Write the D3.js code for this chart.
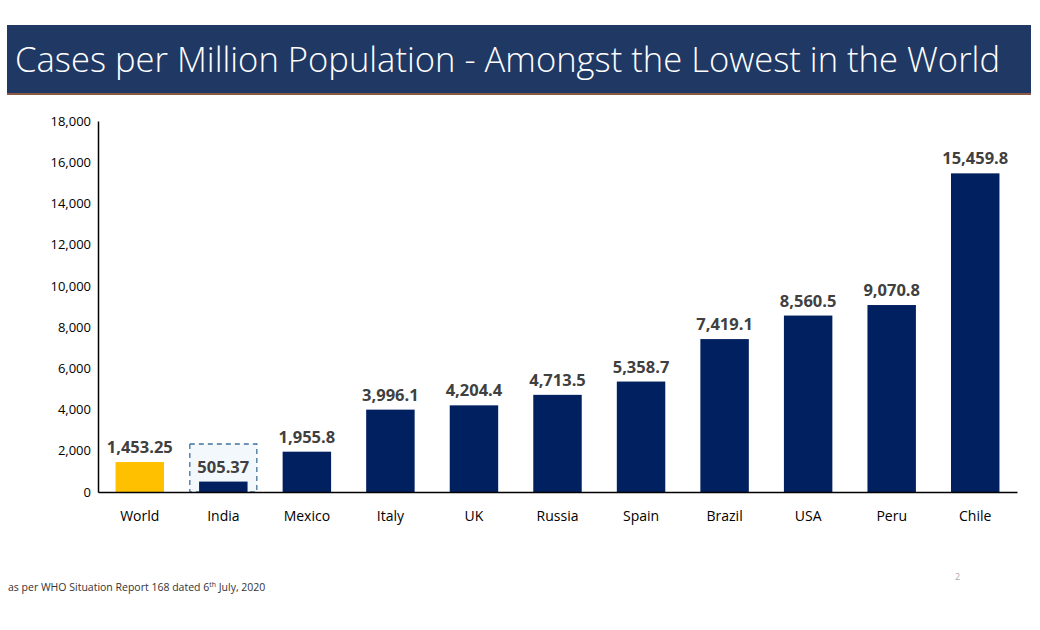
<!DOCTYPE html>
<html>
<head>
<meta charset="utf-8">
<script src="https://cdn.jsdelivr.net/npm/d3@7"></script>
<style>
  body { margin: 0; background: #fff; }
  svg { display: block; }
</style>
</head>
<body>
<div id="container"></div>
<script>
/* DATA */
const countries = ["World", "India", "Mexico", "Italy", "UK", "Russia", "Spain", "Brazil", "USA", "Peru", "Chile"];
const cases = [1453.25, 505.37, 1955.8, 3996.1, 4204.4, 4713.5, 5358.7, 7419.1, 8560.5, 9070.8, 15459.8];
const caseLabels = ["1,453.25", "505.37", "1,955.8", "3,996.1", "4,204.4", "4,713.5", "5,358.7", "7,419.1", "8,560.5", "9,070.8", "15,459.8"];
const yTicks = [0, 2000, 4000, 6000, 8000, 10000, 12000, 14000, 16000, 18000];

/* SIZES */
const W = 1040, H = 630;
const margin = {top: 121, right: 23, bottom: 138, left: 98};
const width = W - margin.left - margin.right,
      height = H - margin.top - margin.bottom;

const svg = d3.select("#container").append("svg")
    .attr("width", W)
    .attr("height", H);

/* TITLE BAR */
svg.append("rect")
    .attr("x", 7).attr("y", 25)
    .attr("width", 1024).attr("height", 68)
    .attr("fill", "#1f3864");
svg.append("rect")
    .attr("x", 7).attr("y", 93)
    .attr("width", 1024).attr("height", 2)
    .attr("fill", "#8a5a44");
svg.append("text")
    .attr("x", 15).attr("y", 72)
    .attr("fill", "#fff")
    .attr("textLength", 985)
    .attr("lengthAdjust", "spacingAndGlyphs")
    .style("font-family", "'Open Sans', sans-serif")
    .style("font-weight", 300)
    .style("font-size", "34px")
    .text("Cases per Million Population - Amongst the Lowest in the World");

const g = svg.append("g")
    .attr("transform", "translate(" + margin.left + "," + margin.top + ")");

/* SCALES */
const x = d3.scaleBand().domain(countries).range([0, width]).paddingInner(0.42).paddingOuter(0.21);
const y = d3.scaleLinear().domain([0, 18000]).range([height, 0]);

/* Y AXIS */
const yAxis = g.append("g")
    .call(d3.axisLeft(y).tickValues(yTicks).tickFormat(d3.format(",")).tickSize(0).tickPadding(7));
yAxis.select(".domain").attr("stroke", "#000").attr("stroke-width", 1.5);
yAxis.selectAll("text")
    .attr("fill", "#000")
    .style("font-family", "'Open Sans', sans-serif")
    .style("font-size", "13px");

/* INDIA HIGHLIGHT BOX */
const hx = x("India") + x.bandwidth() / 2;
g.append("rect")
    .attr("x", hx - 33.5)
    .attr("y", y(2330))
    .attr("width", 67)
    .attr("height", height - y(2330))
    .attr("fill", "#f3f8fd")
    .attr("stroke", "#41719c")
    .attr("stroke-width", 1.3)
    .attr("stroke-dasharray", "5,4");

/* BARS */
g.selectAll(".bar")
    .data(countries)
    .enter().append("rect")
    .attr("class", "bar")
    .attr("x", d => x(d))
    .attr("y", (d, i) => y(cases[i]))
    .attr("width", x.bandwidth())
    .attr("height", (d, i) => height - y(cases[i]))
    .attr("fill", d => d === "World" ? "#ffc000" : "#002060");

/* VALUE LABELS */
g.selectAll(".val")
    .data(countries)
    .enter().append("text")
    .attr("class", "val")
    .attr("x", d => x(d) + x.bandwidth() / 2)
    .attr("y", (d, i) => y(cases[i]) - 9)
    .attr("text-anchor", "middle")
    .attr("fill", "#404040")
    .style("font-family", "'Open Sans', sans-serif")
    .style("font-weight", 700)
    .style("font-size", "16.5px")
    .text((d, i) => caseLabels[i]);

/* X AXIS */
const xAxis = g.append("g")
    .attr("transform", "translate(0," + height + ")")
    .call(d3.axisBottom(x).tickSize(0).tickPadding(19));
xAxis.select(".domain").attr("stroke", "#000").attr("stroke-width", 1.5);
xAxis.selectAll("text")
    .attr("fill", "#000")
    .style("font-family", "'Open Sans', sans-serif")
    .style("font-size", "14px");

/* FOOTNOTE */
const foot = svg.append("text")
    .attr("x", 8).attr("y", 591)
    .attr("fill", "#333")
    .style("font-family", "'Open Sans', sans-serif")
    .style("font-size", "10.5px");
foot.append("tspan").text("as per WHO Situation Report 168 dated 6");
foot.append("tspan").attr("dy", -4).style("font-size", "7px").text("th");
foot.append("tspan").attr("dy", 4).text(" July, 2020");

svg.append("text")
    .attr("x", 955).attr("y", 580)
    .attr("fill", "#aaa")
    .style("font-family", "'Open Sans', sans-serif")
    .style("font-size", "9px")
    .text("2");
</script>
</body>
</html>
